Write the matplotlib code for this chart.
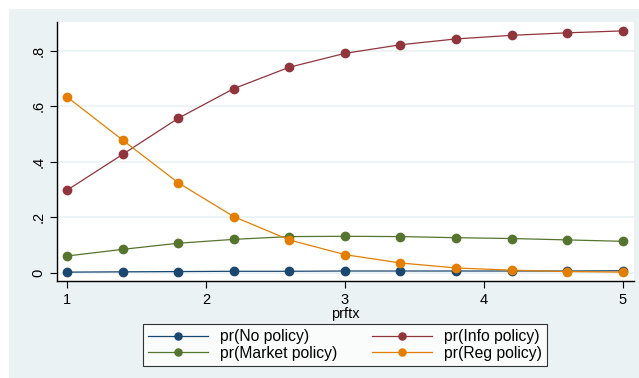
import numpy as np
import matplotlib
matplotlib.use("Agg")
import matplotlib.pyplot as plt
from matplotlib.patches import Rectangle

plt.rcParams['font.family'] = ['Liberation Sans', 'DejaVu Sans']

# predicted probabilities over prftx
prftx = [1.0, 1.4, 1.8, 2.2, 2.6, 3.0, 3.4, 3.8, 4.2, 4.6, 5.0]
pr_no = [0.003, 0.004, 0.005, 0.006, 0.006, 0.007, 0.007, 0.007, 0.007, 0.007, 0.008]
pr_info = [0.298, 0.427, 0.557, 0.664, 0.741, 0.791, 0.822, 0.843, 0.856, 0.865, 0.872]
pr_market = [0.061, 0.085, 0.107, 0.121, 0.131, 0.132, 0.131, 0.127, 0.124, 0.119, 0.114]
pr_reg = [0.634, 0.479, 0.325, 0.203, 0.119, 0.066, 0.036, 0.018, 0.010, 0.005, 0.003]

series = [("pr(No policy)", pr_no, "#1a476f"),
          ("pr(Info policy)", pr_info, "#90353b"),
          ("pr(Market policy)", pr_market, "#55752f"),
          ("pr(Reg policy)", pr_reg, "#e37e00")]

bg = "#eaf2f3"
W, H = 639, 378
fig = plt.figure(figsize=(W / 100, H / 100), dpi=100, facecolor="white")
fig.patches.append(Rectangle((9 / W, 0), 1 - 9 / W, 1 - 9 / H, transform=fig.transFigure,
                             facecolor=bg, edgecolor="none", zorder=-10))

ax = fig.add_axes([57 / W, 1 - 281 / H, (634 - 57) / W, (281 - 22) / H])
ax.set_facecolor("white")

for label, vals, col in series:
    ax.plot(prftx, vals, color=col, lw=0.9, marker="o", ms=6, label=label)

ax.set_xlim(0.928, 5.081)
ax.set_ylim(-0.029, 0.904)
ax.set_xticks([1, 2, 3, 4, 5])
ax.set_yticks([0, 0.2, 0.4, 0.6, 0.8])
ax.set_yticklabels(["0", ".2", ".4", ".6", ".8"], rotation=90, va="center")
ax.tick_params(labelsize=10.5, length=5, width=0.8, color="black")
ax.grid(axis="y", color=bg, lw=1.2)
ax.set_axisbelow(True)
for s in ["top", "right"]:
    ax.spines[s].set_visible(False)
for s in ["left", "bottom"]:
    ax.spines[s].set_linewidth(1.0)
ax.set_xlabel("prftx", fontsize=10.5, labelpad=0)

handles, labels = ax.get_legend_handles_labels()
# row-wise order for two columns
order = [0, 2, 1, 3]
leg = fig.legend([handles[i] for i in order], [labels[i] for i in order],
                 ncol=2, loc="center", bbox_to_anchor=(345 / W, 1 - 345 / H),
                 fontsize=11.3, frameon=True, fancybox=False, handlelength=3.8,
                 markerscale=0.85, columnspacing=2.2, borderpad=0.3,
                 labelspacing=0.12, handletextpad=0.8)
leg.get_frame().set_edgecolor("black")
leg.get_frame().set_linewidth(0.8)

fig.savefig("out.png", dpi=100, facecolor=fig.get_facecolor())
